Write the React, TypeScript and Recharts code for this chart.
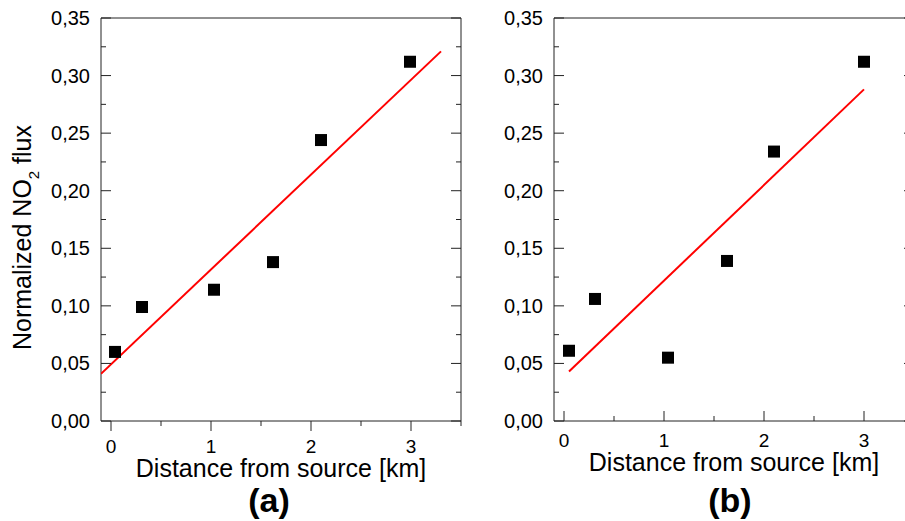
import { Label, Scatter, ScatterChart, XAxis, YAxis } from "recharts";

const xTicks = [0, 0.5, 1, 1.5, 2, 2.5, 3, 3.5];
const yTicks = [
  0, 0.025, 0.05, 0.075, 0.1, 0.125, 0.15, 0.175, 0.2, 0.225, 0.25, 0.275, 0.3, 0.325, 0.35
];

// panel (a)
const distanceA = [0.04, 0.31, 1.03, 1.62, 2.1, 2.99];
const fluxA = [0.06, 0.099, 0.114, 0.138, 0.244, 0.312];
const fitXA = [-0.1, 3.3];
const fitYA = [0.041, 0.321];

// panel (b)
const distanceB = [0.05, 0.31, 1.04, 1.63, 2.1, 3.0];
const fluxB = [0.061, 0.106, 0.055, 0.139, 0.234, 0.312];
const fitXB = [0.05, 3.0];
const fitYB = [0.043, 0.288];

const AXIS = "#222222";
const FONT = '"Liberation Sans", Arial, Helvetica, sans-serif';

const isMajorY = (v: number) => Math.abs(v * 20 - Math.round(v * 20)) < 1e-6;
const isMajorX = (v: number) => Math.abs(v - Math.round(v)) < 1e-6;
const fmtY = (v: number) => v.toFixed(2).replace(".", ",");

const toPoints = (xs: number[], ys: number[]) => xs.map((x, i) => ({ x, y: ys[i] }));

function LeftTick(props: any) {
  const { x, y, payload } = props;
  const major = isMajorY(payload.value);
  return (
    <g>
      <line x1={x} x2={x + (major ? 10 : 5)} y1={y} y2={y} stroke={AXIS} />
      {major && (
        <text x={x - 11} y={y + 7} textAnchor="end" fontSize={20} fontFamily={FONT} fill="#000">
          {fmtY(payload.value)}
        </text>
      )}
    </g>
  );
}

function RightTick(props: any) {
  const { x, y, payload } = props;
  const len = isMajorY(payload.value) ? 10 : 5;
  return <line x1={x} x2={x - len} y1={y} y2={y} stroke={AXIS} />;
}

function TopTick(props: any) {
  const { x, y, payload } = props;
  const len = isMajorX(payload.value) ? 10 : 5;
  return <line x1={x} x2={x} y1={y} y2={y + len} stroke={AXIS} />;
}

function BottomTick(props: any) {
  const { x, y, payload, outward, labelDy } = props;
  const major = isMajorX(payload.value);
  const len = major ? 10 : 5;
  return (
    <g>
      <line x1={x} x2={x} y1={y} y2={outward ? y + len : y - len} stroke={AXIS} />
      {major && (
        <text x={x} y={y + labelDy} textAnchor="middle" fontSize={19} fontFamily={FONT} fill="#000">
          {payload.value}
        </text>
      )}
    </g>
  );
}

function XTitle(props: any) {
  const { viewBox, titleDy, letter, letterDx } = props;
  const cx = viewBox.x + viewBox.width / 2;
  return (
    <g fontFamily={FONT} fill="#000">
      <text x={cx} y={viewBox.y + titleDy} textAnchor="middle" fontSize={25}>
        Distance from source [km]
      </text>
      <text x={cx + letterDx} y={viewBox.y + 91} textAnchor="middle" fontSize={34} fontWeight="bold">
        {letter}
      </text>
    </g>
  );
}

function YTitle(props: any) {
  const { viewBox } = props;
  const tx = viewBox.x + 31;
  const ty = viewBox.y + viewBox.height / 2 + 18;
  return (
    <text
      x={tx}
      y={ty}
      transform={`rotate(-90, ${tx}, ${ty})`}
      textAnchor="middle"
      fontSize={25}
      fontFamily={FONT}
      fill="#000"
    >
      Normalized NO
      <tspan fontSize={15} dy={8}>2</tspan>
      <tspan dy={-8}>{" flux"}</tspan>
    </text>
  );
}

function Panel({
  points,
  fit,
  letter,
  letterDx,
  outward,
  showYTitle
}: {
  points: Array<{ x: number; y: number }>;
  fit: Array<{ x: number; y: number }>;
  letter: string;
  letterDx: number;
  outward: boolean;
  showYTitle: boolean;
}) {
  return (
    <ScatterChart width={470} height={521} margin={{ top: 17, right: 8, bottom: 40, left: 0 }}>
      <XAxis
        type="number"
        dataKey="x"
        domain={[-0.1, 3.5]}
        allowDataOverflow
        ticks={xTicks}
        interval={0}
        height={60}
        tickSize={0}
        tickMargin={0}
        tickLine={false}
        axisLine={{ stroke: AXIS }}
        tick={(p: any) => <BottomTick {...p} outward={outward} labelDy={outward ? 32 : 26} />}
      >
        <Label
          content={(p: any) => (
            <XTitle {...p} titleDy={outward ? 56 : 50} letter={letter} letterDx={letterDx} />
          )}
        />
      </XAxis>
      <XAxis
        xAxisId="top"
        orientation="top"
        type="number"
        domain={[-0.1, 3.5]}
        allowDataOverflow
        ticks={xTicks}
        interval={0}
        height={1}
        tickSize={0}
        tickMargin={0}
        tickLine={false}
        axisLine={{ stroke: AXIS }}
        tick={(p: any) => <TopTick {...p} />}
      />
      <YAxis
        type="number"
        dataKey="y"
        domain={[0, 0.35]}
        allowDataOverflow
        ticks={yTicks}
        interval={0}
        width={101}
        tickSize={0}
        tickMargin={0}
        tickLine={false}
        axisLine={{ stroke: AXIS }}
        tick={(p: any) => <LeftTick {...p} />}
      >
        {showYTitle && <Label content={(p: any) => <YTitle {...p} />} />}
      </YAxis>
      <YAxis
        yAxisId="right"
        orientation="right"
        type="number"
        domain={[0, 0.35]}
        allowDataOverflow
        ticks={yTicks}
        interval={0}
        width={1}
        tickSize={0}
        tickMargin={0}
        tickLine={false}
        axisLine={{ stroke: AXIS }}
        tick={(p: any) => <RightTick {...p} />}
      />
      <Scatter
        data={fit}
        line={{ stroke: "#ff0000", strokeWidth: 2 }}
        shape={() => <g />}
        isAnimationActive={false}
      />
      <Scatter
        data={points}
        shape={(p: any) => <rect x={p.cx - 6} y={p.cy - 6} width={12} height={12} fill="#000" />}
        isAnimationActive={false}
      />
    </ScatterChart>
  );
}

export default function App() {
  return (
    <div
      style={{
        position: "absolute",
        left: 0,
        top: 0,
        width: 905,
        height: 521,
        overflow: "hidden",
        background: "#fff"
      }}
    >
      <div style={{ position: "absolute", left: 0, top: 0 }}>
        <Panel
          points={toPoints(distanceA, fluxA)}
          fit={toPoints(fitXA, fitYA)}
          letter="(a)"
          letterDx={-12}
          outward={true}
          showYTitle={true}
        />
      </div>
      <div style={{ position: "absolute", left: 453, top: 0 }}>
        <Panel
          points={toPoints(distanceB, fluxB)}
          fit={toPoints(fitXB, fitYB)}
          letter="(b)"
          letterDx={-4}
          outward={false}
          showYTitle={false}
        />
      </div>
    </div>
  );
}
